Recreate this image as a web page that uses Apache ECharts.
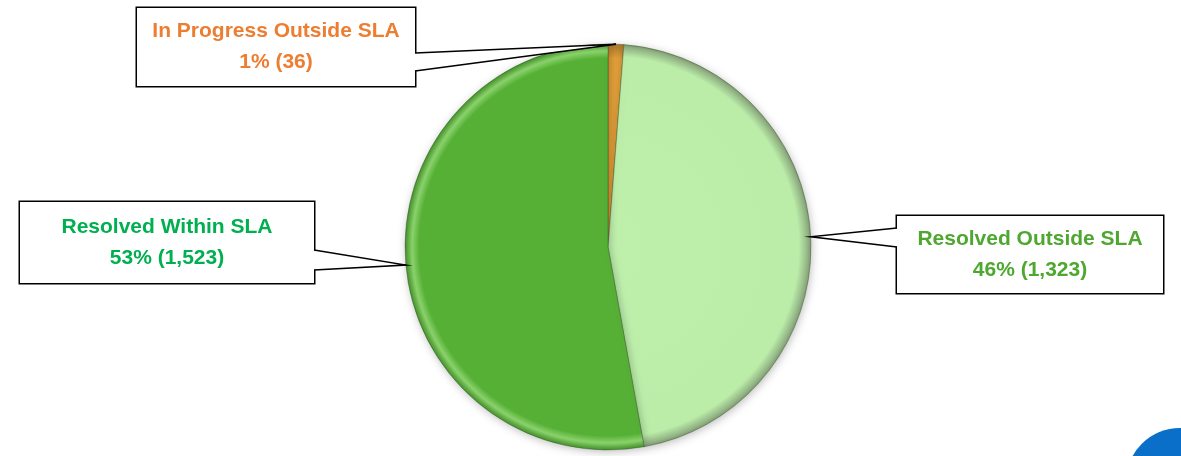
<!DOCTYPE html>
<html>
<head>
<meta charset="utf-8">
<script src="https://cdn.jsdelivr.net/npm/echarts@6/dist/echarts.min.js"></script>
<style>
  html, body { margin: 0; padding: 0; background: #fff; }
  #chart { width: 1181px; height: 456px; }
</style>
</head>
<body>
<div id="chart"></div>
<script>
// 数据
var categories = ['In Progress Outside SLA', 'Resolved Outside SLA', 'Resolved Within SLA']
var counts = [36, 1323, 1523]

// 样式
var sliceStops = [
    [[0, '#e8a63a'], [0.93, '#e2a03a'], [1, '#a8762a']],
    [[0, '#bef0ac'], [0.94, '#bbeda9'], [0.985, '#93b485'], [1, '#7e9a70']],
    [[0, '#56b035'], [0.93, '#56b035'], [0.965, '#8ad26c'], [1, '#44902a']]
]
var textColors = ['#ED7D31', '#4EA72E', '#00B050']
// 标签框: left, top, width, height, 引线底边所在侧, 底边两点的 y
var boxes = [
    {x: 137, y: 8, w: 278, h: 78, side: 'right', b1: 53, b2: 71},
    {x: 897, y: 216, w: 266, h: 77, side: 'left', b1: 228, b2: 247},
    {x: 20, y: 202, w: 294, h: 81, side: 'right', b1: 250, b2: 270}
]
var cx = 608, cy = 247, radius = 203
var padTop = 6

var total = counts.reduce(function(a, b) { return a + b }, 0)

function fmt(n) {
    return n.toString().replace(/\B(?=(\d{3})+(?!\d))/g, ',')
}

// 引线（楔形）
function calloutGraphics() {
    var els = []
    var acc = 0
    counts.forEach(function(v, i) {
        var mid = (acc + v / 2) / total * 2 * Math.PI
        acc += v
        var tip = [cx + radius * Math.sin(mid), cy - radius * Math.cos(mid)]
        var b = boxes[i]
        var bx = b.side === 'right' ? b.x + b.w : b.x
        var inset = b.side === 'right' ? -2 : 2
        els.push({
            type: 'polygon',
            z: 100,
            shape: {points: [[bx + inset, b.b1], tip, [bx + inset, b.b2]]},
            style: {fill: '#fff', stroke: null}
        })
        els.push({
            type: 'polyline',
            z: 101,
            shape: {points: [[bx, b.b1], tip, [bx, b.b2]]},
            style: {stroke: '#000', lineWidth: 1.5, fill: null}
        })
    })
    return els
}

var option = {
    animation: false,
    series: [{
        type: 'pie',
        center: [cx, cy],
        radius: radius,
        startAngle: 90,
        clockwise: true,
        percentPrecision: 0,
        data: categories.map(function(name, i) {
            return {
                name: name,
                value: counts[i],
                itemStyle: {
                    color: new echarts.graphic.RadialGradient(cx, cy, radius,
                        sliceStops[i].map(function(s) {
                            return {offset: s[0], color: s[1]}
                        }), true)
                },
                label: {color: textColors[i]}
            }
        }),
        itemStyle: {
            borderColor: 'rgba(40,70,30,0.35)',
            borderWidth: 1,
            shadowBlur: 8,
            shadowOffsetX: 1,
            shadowOffsetY: 2,
            shadowColor: 'rgba(0,0,0,0.25)'
        },
        label: {
            show: true,
            formatter: function(p) {
                return p.name + '\n' + p.percent + '% (' + fmt(p.value) + ')'
            },
            fontFamily: 'Liberation Sans',
            fontWeight: 'bold',
            fontSize: 21,
            lineHeight: 31,
            align: 'center',
            padding: [padTop, 0, 0, 0],
            backgroundColor: '#fff',
            borderColor: '#000',
            borderWidth: 1.5
        },
        labelLine: {show: false},
        labelLayout: function(params) {
            var b = boxes[params.dataIndex]
            return {
                x: b.x + b.w / 2,
                y: b.y + b.h / 2,
                align: 'center',
                verticalAlign: 'middle',
                width: b.w,
                height: b.h - padTop
            }
        },
        emphasis: {disabled: true}
    }],
    graphic: calloutGraphics().concat([{
        type: 'circle',
        z: 50,
        shape: {cx: 1180, cy: 482, r: 54},
        style: {fill: '#0a6fc8'}
    }])
}

var chart = echarts.init(document.getElementById('chart'))
chart.setOption(option)
window.addEventListener('resize', function() {
    chart.resize()
})
</script>
</body>
</html>
